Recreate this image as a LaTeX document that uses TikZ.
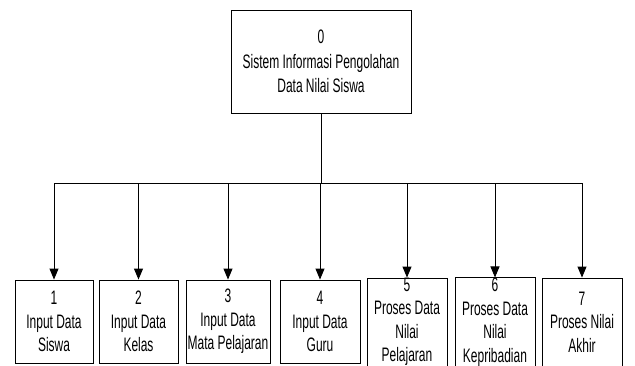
\documentclass[tikz,border=0pt]{standalone}
\usepackage{fontspec}
\setmainfont{Liberation Sans}[FakeStretch=0.615]
\usetikzlibrary{arrows.meta}
\begin{document}
\begin{tikzpicture}[x=1pt,y=-1pt,
  box/.style={draw=black, line width=0.9pt, align=center, inner sep=0pt,
    font=\fontsize{19.5}{23.5}\selectfont},
  link/.style={line width=0.9pt, draw=black},
  arr/.style={link, -{Triangle[length=11pt,width=9pt]}}]
\useasboundingbox (0,0) rectangle (635,365);
\clip (0,0) rectangle (635,365);
% top box
\node[box, minimum width=180pt, minimum height=103pt, font=\fontsize{19.5}{24.5}\selectfont] (top) at (321,61.5)
  {0\\Sistem Informasi Pengolahan\\Data Nilai Siswa};
% bottom boxes
\node[box, minimum width=78pt, minimum height=83pt] (b1) at (54,321.5) {1\\Input Data\\Siswa};
\node[box, minimum width=79pt, minimum height=83pt] (b2) at (138.5,321.5) {2\\Input Data\\Kelas};
\node[box, minimum width=84pt, minimum height=83pt] (b3) at (228,321.5) {3\\Input Data\\Mata Pelajaran};
\node[box, minimum width=80pt, minimum height=83pt] (b4) at (320,321.5) {4\\Input Data\\Guru};
\node[box, minimum width=80pt, minimum height=88pt] (b5) at (407,322) {5\\Proses Data\\Nilai\\Pelajaran};
\node[box, minimum width=80pt, minimum height=88pt] (b6) at (495,322) {6\\Proses Data\\Nilai\\Kepribadian};
\node[box, minimum width=80pt, minimum height=88pt] (b7) at (582,322) {7\\Proses Nilai\\Akhir};
% connectors
\coordinate (j) at (321,183);
\draw[link] (top.south) -- (j);
\draw[link] (b1.north |- j) -- (b7.north |- j);
\foreach \n in {b1,b2,b3,b4,b5,b6,b7}
  \draw[arr] (\n.north |- j) -- (\n.north);
\end{tikzpicture}
\end{document}
